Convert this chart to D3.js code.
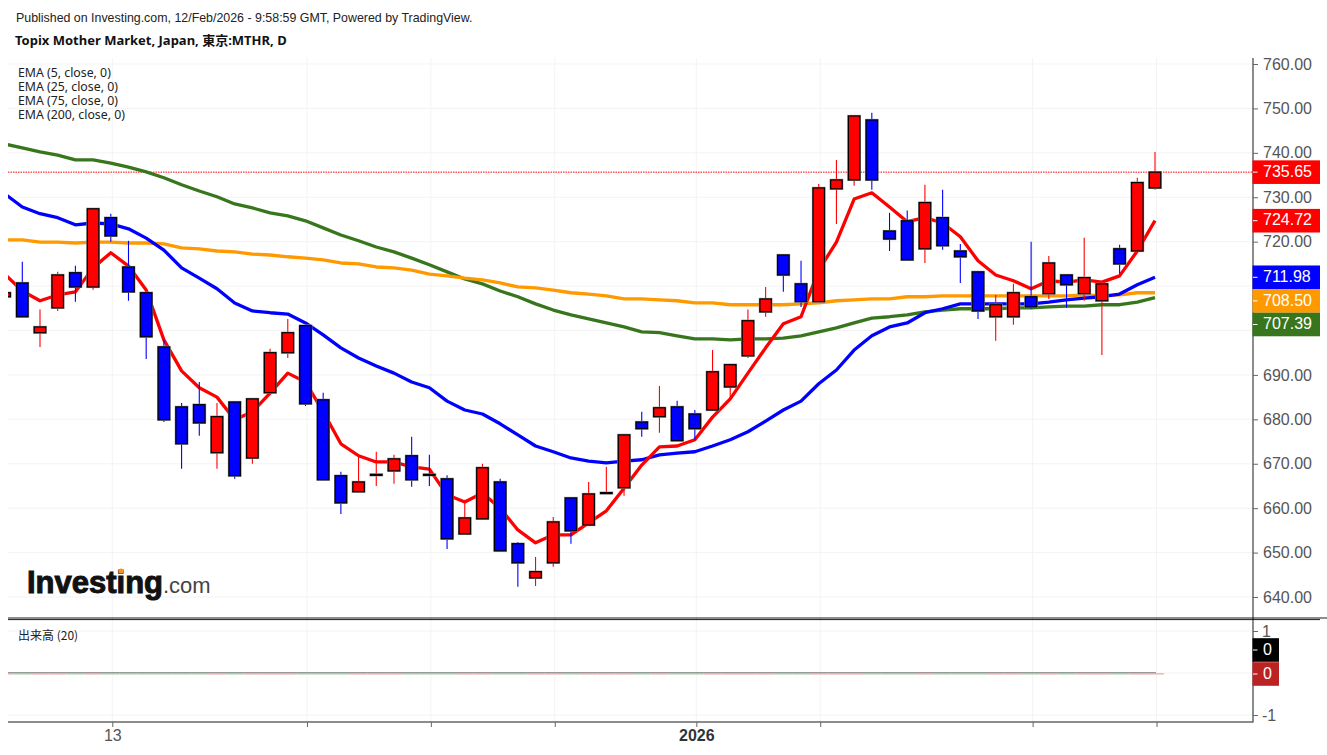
<!DOCTYPE html>
<html>
<head>
<meta charset="utf-8">
<script src="https://d3js.org/d3.v7.min.js"></script>
<style>
  html, body { margin: 0; padding: 0; background: #fff; }
  svg { display: block; }
</style>
</head>
<body>
<div id="chart"></div>
<script>
// daily candles, left to right, first one is cut by the pane edge
let openVals = [707.6,710.7,699.5,705.1,713.0,709.8,725.4,714.3,708.5,696.3,682.8,683.3,672.5,683.9,671.3,686.0,695.0,701.1,684.4,667.3,663.7,667.4,668.4,671.8,667.6,666.6,654.2,657.6,665.9,652.0,644.3,647.7,662.3,656.2,663.3,664.6,679.4,680.6,682.8,681.2,682.1,687.3,694.3,704.2,717.0,710.5,706.5,731.9,733.9,747.4,722.4,724.7,718.4,725.4,717.9,713.2,703.1,703.1,707.6,708.3,712.5,708.3,706.7,718.4,717.9,732.1];
let highVals = [708.7,715.5,704.7,713.2,714.6,727.5,726.3,720.2,708.6,697.9,683.7,688.4,683.7,684.0,684.7,695.9,702.6,701.2,686.0,668.2,671.8,672.7,672.0,676.1,672.0,667.4,661.9,670.0,666.6,652.4,649.0,658.0,662.5,665.9,669.3,676.7,681.7,687.5,684.2,682.1,695.6,692.4,704.7,709.8,717.1,715.7,733.0,738.4,748.4,749.0,726.5,727.0,732.8,731.7,719.5,713.3,708.0,710.5,720.0,716.8,712.6,720.9,710.6,719.3,734.4,740.2];
let lowVals = [707.4,703.0,696.3,704.4,706.5,709.2,720.0,706.7,693.6,679.4,668.9,676.3,668.9,666.6,670.0,685.9,693.8,683.0,666.3,658.7,663.6,665.0,665.5,664.8,665.0,650.8,654.1,657.5,650.3,642.3,642.5,646.8,652.0,656.1,663.2,662.8,676.1,677.0,675.1,675.4,682.0,684.8,693.8,703.1,708.7,705.3,706.4,724.0,732.6,731.7,717.9,715.8,715.2,718.2,710.7,702.6,697.7,701.3,704.9,707.1,705.1,706.7,694.5,712.8,717.8,731.7];
let closeVals = [708.5,703.1,700.8,712.5,709.8,727.4,721.3,708.7,698.6,679.9,674.5,679.2,680.6,667.3,684.6,695.0,699.5,683.5,666.4,661.2,665.9,667.6,671.1,666.4,667.4,653.1,657.8,669.1,650.4,647.7,645.7,656.9,654.9,663.2,663.5,676.5,677.9,682.6,675.2,677.9,690.7,692.3,702.2,707.1,712.5,706.5,732.1,733.9,748.3,733.9,720.6,715.9,728.8,719.1,716.6,704.4,705.8,708.5,705.3,715.2,710.3,711.9,710.5,715.0,733.3,735.65];

let ema5 = [712.7,708.9,706.7,708.0,708.7,714.1,717.5,714.5,709.1,697.9,690.9,687.1,685.0,679.9,681.7,685.9,690.4,688.4,681.7,674.5,671.8,670.4,670.4,669.3,668.8,663.0,661.4,663.4,660.0,655.1,652.2,654.0,654.0,656.7,659.4,664.5,669.7,673.8,674.0,675.4,680.5,684.6,690.4,696.1,701.5,703.1,713.6,719.9,729.6,731.0,727.8,724.5,725.4,724.2,721.1,715.7,712.5,711.2,709.4,711.2,710.9,711.4,710.9,712.3,717.9,724.72];
let ema25 = [730.8,727.8,726.3,725.4,723.8,724.2,724.0,722.9,720.8,718.1,714.1,711.8,709.4,706.2,704.4,704.0,703.7,701.7,699.0,696.1,693.8,692.0,690.4,688.4,687.1,684.1,682.1,681.2,679.0,676.5,674.0,672.7,671.3,670.6,670.2,670.6,670.9,672.0,672.4,672.7,674.0,675.4,677.2,679.6,682.1,684.1,688.0,691.1,695.6,698.8,700.8,701.7,704.0,704.9,706.0,706.0,706.0,706.0,706.0,706.4,706.9,707.3,707.6,708.2,710.3,711.98];
let emaOrange = [720.4,720.4,719.9,719.9,719.7,719.9,719.9,719.7,719.7,719.5,718.6,718.4,717.9,717.7,717.2,717.0,716.6,716.3,715.9,715.2,715.0,714.3,714.1,713.6,712.7,712.3,711.8,711.4,710.7,709.8,709.6,709.1,708.5,708.2,707.8,707.1,707.1,706.9,706.7,706.2,706.2,705.8,705.8,705.8,705.8,706.0,706.2,706.7,706.9,707.1,707.1,707.6,707.6,707.8,707.8,707.8,707.8,707.8,707.8,707.8,707.8,708.0,707.8,708.0,708.5,708.50];
let emaGreen = [742.0,741.1,740.2,739.5,738.4,738.4,737.7,736.8,735.7,734.4,732.8,731.4,730.1,728.5,727.6,726.5,725.8,724.7,723.1,721.5,720.2,718.8,717.7,716.3,714.8,713.2,711.6,710.5,708.9,707.6,706.0,704.6,703.5,702.6,701.7,700.8,699.7,699.5,698.8,698.1,698.1,697.9,698.1,698.1,698.3,698.8,699.7,700.6,701.7,702.8,703.1,703.5,704.2,704.6,704.9,704.9,704.9,705.1,705.1,705.3,705.5,705.5,705.8,705.8,706.4,707.39];
let volumeVals = openVals.map(() => 0);

let priceTicks = [640,650,660,670,680,690,700,710,720,730,740,750,760];
let volumeTicks = [-1,0,1];
let dateTickIdx = [6,17,24,31,39,46,58,65];
let dateTickLabels = ["13","","","","2026","","",""];
let emaLegend = ["EMA (5, close, 0)","EMA (25, close, 0)","EMA (75, close, 0)","EMA (200, close, 0)"];

let sizex = 1327,
    sizey = 755;
let paneLeft = 8,
    paneRight = 1253,
    paneTop = 58,
    paneBottom = 618,
    volBottom = 722;

let svg = d3.select("#chart").append("svg")
    .attr("width", sizex)
    .attr("height", sizey);

let scalex = d3.scaleLinear().domain([0, 65]).range([4.6, 1155]);
let scaley = d3.scaleLinear().domain([640, 760]).range([597, 64]);
let scalev = d3.scaleLinear().domain([-1, 1]).range([715, 631]);

svg.append("defs").append("clipPath").attr("id", "pane")
  .append("rect")
    .attr("x", paneLeft).attr("y", paneTop)
    .attr("width", paneRight - paneLeft).attr("height", paneBottom - paneTop);

// grid
let gridColor = "#f3f3f3";
priceTicks.forEach(function(v) {
  svg.append("line")
    .attr("x1", paneLeft).attr("x2", paneRight)
    .attr("y1", scaley(v)).attr("y2", scaley(v))
    .attr("stroke", gridColor);
});
volumeTicks.forEach(function(v) {
  svg.append("line")
    .attr("x1", paneLeft).attr("x2", paneRight)
    .attr("y1", scalev(v)).attr("y2", scalev(v))
    .attr("stroke", gridColor);
});
dateTickIdx.forEach(function(i) {
  svg.append("line")
    .attr("x1", scalex(i) + 1.5).attr("x2", scalex(i) + 1.5)
    .attr("y1", paneTop).attr("y2", volBottom)
    .attr("stroke", gridColor);
});

let pane = svg.append("g").attr("clip-path", "url(#pane)");

// last price line
pane.append("line")
  .attr("x1", paneLeft).attr("x2", paneRight)
  .attr("y1", scaley(closeVals[65])).attr("y2", scaley(closeVals[65]))
  .attr("stroke", "#ff0000")
  .attr("stroke-dasharray", "1.5,1");

// moving averages
let lineGen = d3.line().x((d, i) => scalex(i)).y(d => scaley(d));
[[emaGreen, "#38761d"], [emaOrange, "#ff9900"], [ema25, "#0000ff"], [ema5, "#ff0000"]].forEach(function(s) {
  pane.append("path")
    .attr("d", lineGen(s[0]))
    .attr("fill", "none")
    .attr("stroke", s[1])
    .attr("stroke-width", 3.3)
    .attr("stroke-linejoin", "round");
});

// candles
let bodyWidth = 11.5;
openVals.forEach(function(o, i) {
  let c = closeVals[i],
      col = c >= o ? "#ff0000" : "#0000ff",
      top = scaley(Math.max(o, c)),
      bot = scaley(Math.min(o, c));
  pane.append("line")
    .attr("x1", scalex(i)).attr("x2", scalex(i))
    .attr("y1", scaley(highVals[i])).attr("y2", scaley(lowVals[i]))
    .attr("stroke", col)
    .attr("stroke-width", 1.1);
  pane.append("rect")
    .attr("x", scalex(i) - bodyWidth / 2).attr("y", top)
    .attr("width", bodyWidth).attr("height", bot - top)
    .attr("fill", "none")
    .attr("stroke", "#8f8f8f")
    .attr("stroke-width", 2.2);
  pane.append("rect")
    .attr("x", scalex(i) - bodyWidth / 2).attr("y", top)
    .attr("width", bodyWidth).attr("height", bot - top)
    .attr("fill", col)
    .attr("stroke", "#000")
    .attr("stroke-width", 1.2);
});

// volume pane, all values are zero here so only the thin stubs show
let volPane = svg.append("g");
volumeVals.forEach(function(v, i) {
  volPane.append("rect")
    .attr("x", Math.max(paneLeft, scalex(i) - 8.8)).attr("y", scalev(v))
    .attr("width", scalex(i) + 8.8 - Math.max(paneLeft, scalex(i) - 8.8)).attr("height", 1.6)
    .attr("fill", closeVals[i] >= openVals[i] ? "#f4b6b6" : "#a9dcae");
});
volPane.append("line")
  .attr("x1", paneLeft).attr("x2", scalex(65) + 1)
  .attr("y1", scalev(0) - 0.4).attr("y2", scalev(0) - 0.4)
  .attr("stroke", "#9a9a9a")
  .attr("stroke-width", 1.2);

// axes
let axisFont = "16px 'Liberation Sans',Arial,sans-serif";
function styleAxis(g) {
  g.style("font", axisFont);
  g.select(".domain").remove();
  g.selectAll(".tick line").attr("stroke", "#666").attr("x2", 5);
  g.selectAll(".tick text").attr("fill", "#555").attr("x", 10);
}
svg.append("g")
  .attr("transform", "translate(" + paneRight + ",0)")
  .call(d3.axisRight(scaley).tickValues(priceTicks).tickFormat(d3.format(".2f")))
  .call(styleAxis);
let volAxis = svg.append("g")
  .attr("transform", "translate(" + paneRight + ",0)")
  .call(d3.axisRight(scalev).tickValues(volumeTicks).tickFormat(d => d === -1 ? "-1" : d))
  .call(styleAxis);
volAxis.selectAll(".tick text").attr("x", 9);

let dateAxis = svg.append("g")
  .attr("transform", "translate(1.5," + volBottom + ")")
  .call(d3.axisBottom(scalex)
    .tickValues(dateTickIdx)
    .tickFormat(d => dateTickLabels[dateTickIdx.indexOf(d)])
    .tickSizeOuter(0))
  .style("font", axisFont);
dateAxis.select(".domain").remove();
dateAxis.selectAll(".tick line").attr("stroke", "#666").attr("y2", 5);
dateAxis.selectAll(".tick text")
  .attr("y", 8)
  .attr("fill", d => dateTickLabels[dateTickIdx.indexOf(d)] === "2026" ? "#333" : "#555")
  .style("font-weight", d => dateTickLabels[dateTickIdx.indexOf(d)] === "2026" ? "bold" : "normal");

// frame
svg.append("line").attr("x1", paneRight).attr("x2", paneRight).attr("y1", paneTop).attr("y2", volBottom + 0.5)
  .attr("stroke", "#666").attr("stroke-width", 1.5);
svg.append("line").attr("x1", paneLeft).attr("x2", paneRight).attr("y1", volBottom).attr("y2", volBottom)
  .attr("stroke", "#666").attr("stroke-width", 1.5);
svg.append("line").attr("x1", paneLeft).attr("x2", sizex).attr("y1", 618).attr("y2", 618)
  .attr("stroke", "#000").attr("stroke-width", 0.9);
svg.append("line").attr("x1", paneLeft).attr("x2", 1320).attr("y1", 619.6).attr("y2", 619.6)
  .attr("stroke", "#000").attr("stroke-width", 0.9);

// price labels on the right, stacked when they would overlap
function valueBox(cy, w, fill, txt) {
  svg.append("rect")
    .attr("x", paneRight - 0.5).attr("y", cy - 11.8)
    .attr("width", w).attr("height", 23.6)
    .attr("fill", fill);
  svg.append("line")
    .attr("x1", paneRight).attr("x2", paneRight + 4.5)
    .attr("y1", cy).attr("y2", cy)
    .attr("stroke", "#fff");
  svg.append("text")
    .attr("x", paneRight + 10).attr("y", cy + 0.5)
    .attr("dominant-baseline", "middle")
    .attr("fill", "#fff")
    .style("font", axisFont)
    .text(txt);
}
let lastLabels = [[closeVals[65], "#ff0000"], [ema5[65], "#ff0000"], [ema25[65], "#0000ff"], [emaOrange[65], "#ff9900"], [emaGreen[65], "#38761d"]];
let prevY = -100;
lastLabels.forEach(function(d) {
  let cy = Math.max(scaley(d[0]), prevY + 23.6);
  valueBox(cy, 67.5, d[1], d[0].toFixed(2));
  prevY = cy;
});
valueBox(650, 26.5, "#000", "0");
valueBox(674, 26.5, "#bb2222", "0");

// header and legend text
svg.append("text")
  .attr("x", 16).attr("y", 21.5)
  .attr("fill", "#222")
  .style("font", "12.4px 'Liberation Sans',Arial,sans-serif")
  .text("Published on Investing.com, 12/Feb/2026 - 9:58:59 GMT, Powered by TradingView.");
svg.append("text")
  .attr("x", 15).attr("y", 44.5)
  .attr("fill", "#111")
  .style("font", "bold 13px 'Noto Sans','Noto Sans CJK JP',sans-serif")
  .text("Topix Mother Market, Japan, 東京:MTHR, D");

emaLegend.forEach(function(t, i) {
  svg.append("text")
    .attr("x", 18).attr("y", [77, 91, 105, 119][i])
    .attr("fill", "#222")
    .style("font", "12.3px 'Noto Sans',sans-serif")
    .text(t);
});
svg.append("text")
  .attr("x", 18).attr("y", 640)
  .attr("fill", "#222")
  .style("font", "12px 'Noto Sans CJK JP','Noto Sans',sans-serif")
  .text("出来高 (20)");

// watermark logo
svg.append("text")
  .attr("x", 27).attr("y", 593)
  .attr("fill", "#111")
  .attr("stroke", "#111")
  .attr("stroke-width", 1)
  .style("font", "bold 31px 'Liberation Sans',Arial,sans-serif")
  .attr("textLength", 136)
  .text("Investing");
svg.append("text")
  .attr("x", 163).attr("y", 593)
  .attr("fill", "#444")
  .style("font", "22px 'Liberation Sans',Arial,sans-serif")
  .text(".com");
svg.append("circle")
  .attr("cx", 121).attr("cy", 571).attr("r", 2.6)
  .attr("fill", "#f7941d");
</script>
</body>
</html>
